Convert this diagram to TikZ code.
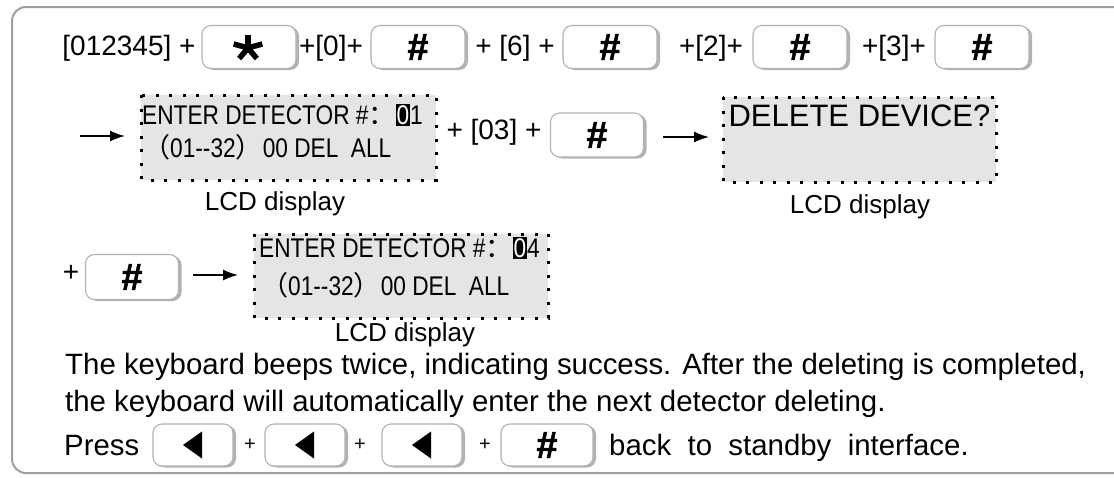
\documentclass[tikz,border=0pt]{standalone}
\usepackage{fontspec}
\setmainfont{Liberation Sans}
\newfontfamily\lcdfont{Liberation Sans}[FakeStretch=0.84]
\newfontfamily\hashfont{Liberation Sans}[FakeBold=1.5]
\newfontfamily\cjk{Noto Sans CJK SC}
\usetikzlibrary{arrows.meta}
\newcommand{\hl}[1]{{\setlength{\fboxsep}{1pt}\colorbox{black}{\textcolor{white}{#1}}}}
\tikzset{
  key/.style={draw=gray!60, line width=1.1pt, fill=white, rounded corners=9pt,
    minimum height=43pt, inner sep=0pt,
    preaction={fill=gray!60, transform canvas={xshift=3pt,yshift=-1.5pt}}},
  hashtxt/.style={font=\hashfont\bfseries\fontsize{38}{40}\selectfont},
  rowtxt/.style={font=\fontsize{28}{30}\selectfont, inner sep=0pt},
  lcd/.style={fill=gray!20, draw=black, line width=3pt, dash pattern=on 3pt off 10.5pt},
  lcdlabel/.style={font=\fontsize{26}{28}\selectfont, inner sep=0pt},
  body/.style={font=\fontsize{29.4}{31}\selectfont, inner sep=0pt, anchor=base west},
  small/.style={font=\fontsize{20}{22}\selectfont, inner sep=0pt},
  arr/.style={line width=1.5pt, -{Latex[length=15pt,width=11pt]}},
  frame/.style={draw=gray!75, line width=2pt, rounded corners=14pt},
}
\begin{document}
\begin{tikzpicture}[x=1pt,y=-1pt]
\useasboundingbox (0,0) rectangle (1114,477);
\fill[white] (0,0) rectangle (1114,477);
\draw[frame] (1150,7) -- (12,7) -- (12,473) -- (1150,473);

% Row 1
\node[rowtxt] (t1) at (129,48) {[012345] +};
\node[key, minimum width=94pt] (k1) at (249,47) {};
\foreach \a in {270,342,54,126,198}
  \draw[line width=5.5pt, line cap=butt] ([xshift=-1pt,yshift=-1pt]k1.center) -- ++({15*cos(\a)},{13*sin(\a)});
\node[rowtxt] (t2) at (331,48) {+[0]+};
\node[key, minimum width=94pt, hashtxt] (k2) at (418,47) {\#};
\node[rowtxt] (t3) at (515,48) {+ [6] +};
\node[key, minimum width=94pt, hashtxt] (k3) at (610,47) {\#};
\node[rowtxt] (t4) at (711,48) {+[2]+};
\node[key, minimum width=94pt, hashtxt] (k4) at (800,47) {\#};
\node[rowtxt] (t5) at (894,48) {+[3]+};
\node[key, minimum width=94pt, hashtxt] (k5) at (982,47) {\#};

% Row 2
\coordinate (a1s) at (80,136);
\coordinate (a1e) at (125,136);
\draw[arr] (a1s) -- (a1e);
\path[lcd] (141,95) rectangle (436,180);
\node[inner sep=0pt, minimum width=295pt, minimum height=85pt] (lcd1) at (288.5,137.5) {};
\node[inner sep=0pt, anchor=west, font=\lcdfont\fontsize{27}{29}\selectfont] (l1a) at (142,115) {ENTER DETECTOR \#{\cjk ：}\hl{0}1};
\node[inner sep=0pt, anchor=west, font=\lcdfont\fontsize{27}{28}\selectfont] (l1b) at (143,147) {{\cjk （}01-{}-32{\cjk ）}00 DEL\ \ ALL};
\node[lcdlabel] (lab1) at (275,204) {LCD display};

\node[rowtxt] (t6) at (494,132) {+ [03] +};
\node[key, minimum width=93pt, minimum height=44pt, hashtxt] (k6) at (597,135) {\#};
\coordinate (a2s) at (663,137);
\coordinate (a2e) at (709,137);
\draw[arr] (a2s) -- (a2e);
\path[lcd] (723,97) rectangle (996,182);
\node[inner sep=0pt, minimum width=273pt, minimum height=85pt] (lcd2) at (859.5,139.5) {};
\node[inner sep=0pt, font=\fontsize{31}{33}\selectfont] (l2a) at (859.5,116) {DELETE DEVICE?};
\node[lcdlabel] (lab2) at (860,207) {LCD display};

% Row 3
\node[rowtxt] (t7) at (71,273) {+};
\node[key, minimum width=93pt, minimum height=45pt, hashtxt] (k7) at (132,277) {\#};
\coordinate (a3s) at (193,275);
\coordinate (a3e) at (238,275);
\draw[arr] (a3s) -- (a3e);
\path[lcd] (254,234) rectangle (548,318);
\node[inner sep=0pt, minimum width=294pt, minimum height=84pt] (lcd3) at (401,276) {};
\node[inner sep=0pt, anchor=west, font=\lcdfont\fontsize{27}{29}\selectfont] (l3a) at (259,248) {ENTER DETECTOR \#{\cjk ：}\hl{0}4};
\node[inner sep=0pt, anchor=west, font=\lcdfont\fontsize{27}{28}\selectfont] (l3b) at (261,285) {{\cjk （}01--32{\cjk ）}00 DEL\ \ ALL};
\node[lcdlabel] (lab3) at (405,335) {LCD display};

% Text lines
\node[body] (p1) at (65,374) {The keyboard beeps twice, indicating success. After the deleting is completed,};
\node[body] (p2) at (65,411) {the keyboard will automatically enter the next detector deleting.};
\node[body] (p3) at (64,455) {Press};
\node[key, minimum width=80pt, minimum height=42pt] (k8) at (193,445) {};
\node[small] (s1) at (250,445) {+};
\node[key, minimum width=80pt, minimum height=42pt] (k9) at (305,445) {};
\node[small] (s2) at (360,445) {+};
\node[key, minimum width=80pt, minimum height=42pt] (k10) at (422,445) {};
\node[small] (s3) at (485,445) {+};
\node[key, minimum width=92pt, minimum height=42pt, hashtxt] (k11) at (547,445) {\#};
\node[body] (p4) at (609,455) {back\ \ to\ \ standby\ \ interface.};
\foreach \k in {k8,k9,k10}
  \fill ([xshift=-10pt]\k.center) -- ++(19,-13.5) -- ++(0,27) -- cycle;
\end{tikzpicture}
\end{document}
